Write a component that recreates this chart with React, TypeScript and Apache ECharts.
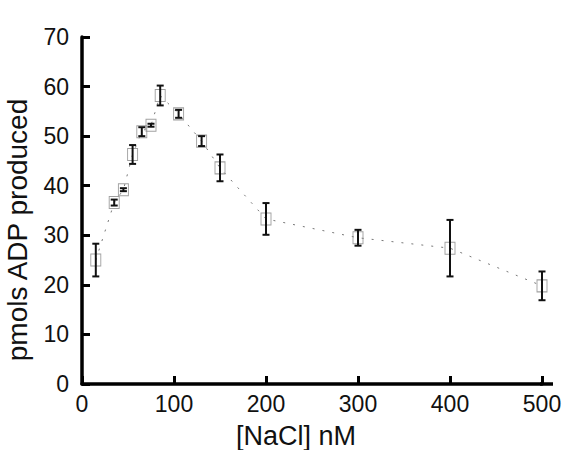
import React, { useEffect, useRef } from "react";
import * as echarts from "echarts";

const xValues = [15, 35, 45, 55, 65, 75, 85, 105, 130, 150, 200, 300, 400, 500];
const yMeans = [25.0, 36.6, 39.2, 46.3, 50.9, 52.2, 58.2, 54.5, 49.0, 43.6, 33.3, 29.5, 27.4, 19.8];
const yErrors = [3.3, 0.6, 0.3, 1.9, 0.9, 0.3, 2.0, 0.8, 1.0, 2.7, 3.2, 1.6, 5.7, 2.9];
const xTitle = "[NaCl] nM";
const yTitle = "pmols ADP produced";

const FONT = "Liberation Sans, Arial, sans-serif";

export default function App() {
  const ref = useRef<HTMLDivElement>(null);
  useEffect(() => {
    document.body.style.margin = "0";
    if (!ref.current) return;
    const chart = echarts.init(ref.current, null, { renderer: "svg" });
    const points = xValues.map((x, i) => [x, yMeans[i]]);
    const errData = xValues.map((x, i) => [x, yMeans[i] - yErrors[i], yMeans[i] + yErrors[i]]);
    chart.setOption({
      animation: false,
      backgroundColor: "#fff",
      grid: { left: 82, right: 22, top: 37, bottom: 66, containLabel: false, outerBoundsMode: "none" },
      xAxis: {
        type: "value",
        min: 0,
        max: 500,
        interval: 100,
        splitLine: { show: false },
        axisLine: { show: true, lineStyle: { color: "#000", width: 3.5 } },
        axisTick: { show: true, inside: true, length: 8, lineStyle: { color: "#000", width: 3 } },
        axisLabel: { color: "#111", fontSize: 23, fontFamily: FONT, margin: 8 },
      },
      yAxis: {
        type: "value",
        min: 0,
        max: 70,
        interval: 10,
        splitLine: { show: false },
        axisLine: { show: true, lineStyle: { color: "#000", width: 3.5 } },
        axisTick: { show: true, inside: true, length: 8, lineStyle: { color: "#000", width: 3 } },
        axisLabel: { color: "#111", fontSize: 23, fontFamily: FONT, margin: 13 },
      },
      graphic: [
        {
          type: "line",
          shape: { x1: 540, y1: 384, x2: 553, y2: 384 },
          style: { stroke: "#000", lineWidth: 3.5 },
        },
        {
          type: "text",
          x: 296,
          y: 436,
          style: {
            text: xTitle,
            fontSize: 27,
            fontFamily: FONT,
            fill: "#111",
            align: "center",
            verticalAlign: "middle",
          },
        },
        {
          type: "text",
          x: 17,
          y: 230,
          rotation: Math.PI / 2,
          style: {
            text: yTitle,
            fontSize: 28,
            fontFamily: FONT,
            fill: "#111",
            align: "center",
            verticalAlign: "middle",
          },
        },
      ],
      series: [
        {
          type: "line",
          data: points,
          symbol: "none",
          z: 1,
          lineStyle: { color: "#777", width: 1, type: [2, 8] },
        },
        {
          type: "scatter",
          data: points,
          symbol: "rect",
          symbolSize: [10, 12],
          z: 2,
          itemStyle: { color: "transparent", borderColor: "#888", borderWidth: 1 },
        },
        {
          type: "custom",
          data: errData,
          z: 3,
          renderItem: (params: any, api: any) => {
            const x = api.value(0);
            const lo = api.coord([x, api.value(1)]);
            const hi = api.coord([x, api.value(2)]);
            const cap = 3.5;
            const style = { stroke: "#111", lineWidth: 2 };
            return {
              type: "group",
              children: [
                { type: "line", shape: { x1: lo[0], y1: lo[1], x2: hi[0], y2: hi[1] }, style },
                { type: "line", shape: { x1: lo[0] - cap, y1: lo[1], x2: lo[0] + cap, y2: lo[1] }, style },
                { type: "line", shape: { x1: hi[0] - cap, y1: hi[1], x2: hi[0] + cap, y2: hi[1] }, style },
              ],
            };
          },
        },
      ],
    });
    return () => chart.dispose();
  }, []);
  return <div ref={ref} style={{ width: 564, height: 450 }} />;
}
